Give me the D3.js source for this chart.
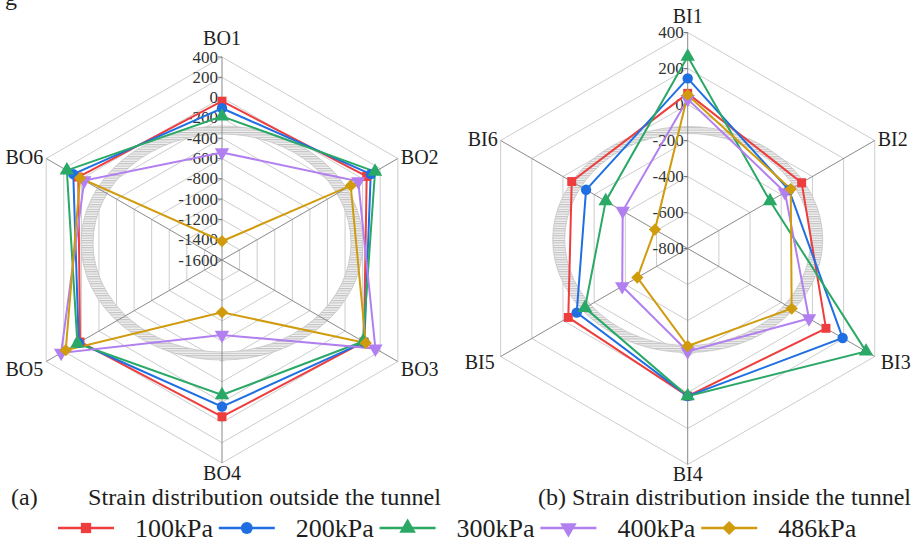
<!DOCTYPE html>
<html><head><meta charset="utf-8">
<script src="https://cdn.jsdelivr.net/npm/d3@7"></script>
<style>body{margin:0;background:#fff}svg{display:block}</style>
</head><body>
<svg id="c" width="921" height="544" font-family="'Liberation Serif', 'DejaVu Serif', serif"></svg>
<script>
// ---------- data ----------
const outsideAxes = ["BO1","BO2","BO3","BO4","BO5","BO6"];
const insideAxes  = ["BI1","BI2","BI3","BI4","BI5","BI6"];
const seriesNames = ["100kPa","200kPa","300kPa","400kPa","486kPa"];

const outside100 = [-35, 46, 15, -56, 15, 35];
const outside200 = [-105, 92, 20, -155, 30, 92];
const outside300 = [-185, 141, 5, -270, 45, 165];
const outside400 = [-540, -50, 145, -861, 230, -33];
const outside486 = [-1415, -136, 35, -1085, 178, 15];

const inside100 = [62, -69, 87, 20, -34, -56];
const inside200 = [145, -150, 194, 20, -88, -148];
const inside300 = [266, -272, 344, 20, -141, -274];
const inside400 = [30, -176, -22, -228, -380, -383];
const inside486 = [53, -139, -133, -258, -477, -590];

const outsideTicks = [400, 200, 0, -200, -400, -600, -800, -1000, -1200, -1400, -1600];
const insideTicks  = [400, 200, 0, -200, -400, -600, -800];

const colors = ["#ee3d3d", "#1f6fe3", "#2aa866", "#b17ff0", "#d09b0c"];
const symbols = ["square", "circle", "triangle", "triangleDown", "diamond"];

// ---------- drawing ----------
const FONT = "'Liberation Serif', 'DejaVu Serif', serif";
const svg = d3.select("#c");

const defs = svg.append("defs");
const pat = defs.append("pattern").attr("id","hatch").attr("patternUnits","userSpaceOnUse")
  .attr("width",6).attr("height",2.4);
pat.append("rect").attr("width",6).attr("height",2.4).attr("fill","#f2f2f2");
pat.append("line").attr("x1",0).attr("x2",6).attr("y1",0.6).attr("y2",0.6)
  .attr("stroke","#a8a8a8").attr("stroke-width",0.8);

function symbolPath(kind){
  if (kind === "square") return d3.symbol(d3.symbolSquare, 80)();
  if (kind === "circle") return d3.symbol(d3.symbolCircle, 85)();
  if (kind === "triangle") return d3.symbol(d3.symbolTriangle, 90)();
  if (kind === "triangleDown") return d3.symbol(d3.symbolTriangle, 90)();
  return d3.symbol(d3.symbolSquare, 75)();
}
function symbolRot(kind){
  if (kind === "triangleDown") return 180;
  if (kind === "diamond") return 45;
  return 0;
}
function ellipsePath(cx, cy, rx, ry){
  return `M${cx-rx},${cy}A${rx},${ry} 0 1,0 ${cx+rx},${cy}A${rx},${ry} 0 1,0 ${cx-rx},${cy}Z`;
}
function txt(sel){ return sel.attr("font-family", FONT).style("font-family", FONT).attr("fill","#1e1e1e"); }

function radar(opt){
  const {cx, cy, R, ticks, axes, series, hatch, labelOff} = opt;
  const g = svg.append("g");
  const r = d3.scaleLinear().domain([d3.min(ticks), d3.max(ticks)]).range([0, R]);
  const ang = d3.scaleLinear().domain([0, axes.length]).range([0, 2*Math.PI]);
  const pt = (i, v) => [cx + r(v)*Math.sin(ang(i)), cy - r(v)*Math.cos(ang(i))];

  ticks.filter(t => t !== d3.min(ticks)).forEach(t => {
    const pts = axes.map((a,i) => pt(i, t));
    g.append("path").attr("d", d3.line()(pts) + "Z")
      .attr("fill","none").attr("stroke","#cdcdcd").attr("stroke-width",1);
  });
  g.append("path")
    .attr("d", ellipsePath(cx, cy + hatch.dy, hatch.rx, hatch.ry) + ellipsePath(cx, cy + hatch.dy, hatch.irx, hatch.iry))
    .attr("fill","url(#hatch)").attr("fill-rule","evenodd").attr("stroke","#c4c4c4").attr("stroke-width",0.8);
  axes.forEach((a,i) => {
    const [x,y] = pt(i, d3.max(ticks));
    g.append("line").attr("x1",cx).attr("y1",cy).attr("x2",x).attr("y2",y)
      .attr("stroke","#8a8a8a").attr("stroke-width",1);
  });
  ticks.forEach(t => {
    const y = cy - r(t);
    g.append("line").attr("x1",cx-4).attr("x2",cx).attr("y1",y).attr("y2",y).attr("stroke","#777");
    txt(g.append("text")).attr("x",cx-4).attr("y",y+5.5).attr("text-anchor","end")
      .attr("font-size",17).attr("fill","#333").text(t);
  });
  axes.forEach((a,i) => {
    const [x,y] = pt(i, d3.max(ticks));
    const o = labelOff[i];
    txt(g.append("text")).attr("x", x + o[0]).attr("y", y + o[1]).attr("text-anchor", o[2])
      .attr("font-size", 20).text(a);
  });
  series.forEach((vals, s) => {
    const pts = vals.map((v,i) => pt(i, v));
    g.append("path").attr("d", d3.line()(pts) + "Z").attr("fill","none")
      .attr("stroke", colors[s]).attr("stroke-width", 2);
  });
  series.forEach((vals, s) => {
    vals.forEach((v,i) => {
      const [x,y] = pt(i, v);
      g.append("path").attr("d", symbolPath(symbols[s]))
        .attr("transform", `translate(${x},${y}) rotate(${symbolRot(symbols[s])})`)
        .attr("fill", colors[s]);
    });
  });
}

radar({
  cx: 222, cy: 260, R: 203, ticks: outsideTicks, axes: outsideAxes,
  series: [outside100, outside200, outside300, outside400, outside486],
  hatch: {dy: -17, rx: 141, ry: 117, irx: 129, iry: 109},
  labelOff: [[0,-12,"middle"],[3,5,"start"],[3,14,"start"],[0,17,"middle"],[-3,14,"end"],[-3,5,"end"]]
});
radar({
  cx: 687.7, cy: 248.5, R: 216, ticks: insideTicks, axes: insideAxes,
  series: [inside100, inside200, inside300, inside400, inside486],
  hatch: {dy: -9, rx: 135, ry: 113, irx: 123, iry: 106},
  labelOff: [[0,-10,"middle"],[3,5,"start"],[6,12,"start"],[0,16,"middle"],[-6,12,"end"],[-3,5,"end"]]
});

txt(svg.append("text")).attr("x",5).attr("y",5).attr("font-size",24).text("g");

txt(svg.append("text")).attr("x",11).attr("y",505).attr("font-size",24).text("(a)");
txt(svg.append("text")).attr("x",88).attr("y",505).attr("font-size",24)
  .attr("textLength",353).attr("lengthAdjust","spacingAndGlyphs").text("Strain distribution outside the tunnel");
txt(svg.append("text")).attr("x",538).attr("y",505).attr("font-size",24)
  .attr("textLength",373).attr("lengthAdjust","spacingAndGlyphs").text("(b) Strain distribution inside the tunnel");

const leg = svg.append("g");
seriesNames.forEach((name, s) => {
  const x0 = 58 + s*160.8, y = 528;
  leg.append("line").attr("x1",x0).attr("x2",x0+56).attr("y1",y).attr("y2",y)
    .attr("stroke",colors[s]).attr("stroke-width",2.5);
  leg.append("path").attr("d", symbolPath(symbols[s]))
    .attr("transform", `translate(${x0+28},${y}) rotate(${symbolRot(symbols[s])}) scale(1.15)`)
    .attr("fill", colors[s]);
  txt(leg.append("text")).attr("x", x0+77).attr("y", y+9).attr("font-size",26)
    .attr("textLength",78).attr("lengthAdjust","spacingAndGlyphs").text(name);
});
</script>
</body></html>
